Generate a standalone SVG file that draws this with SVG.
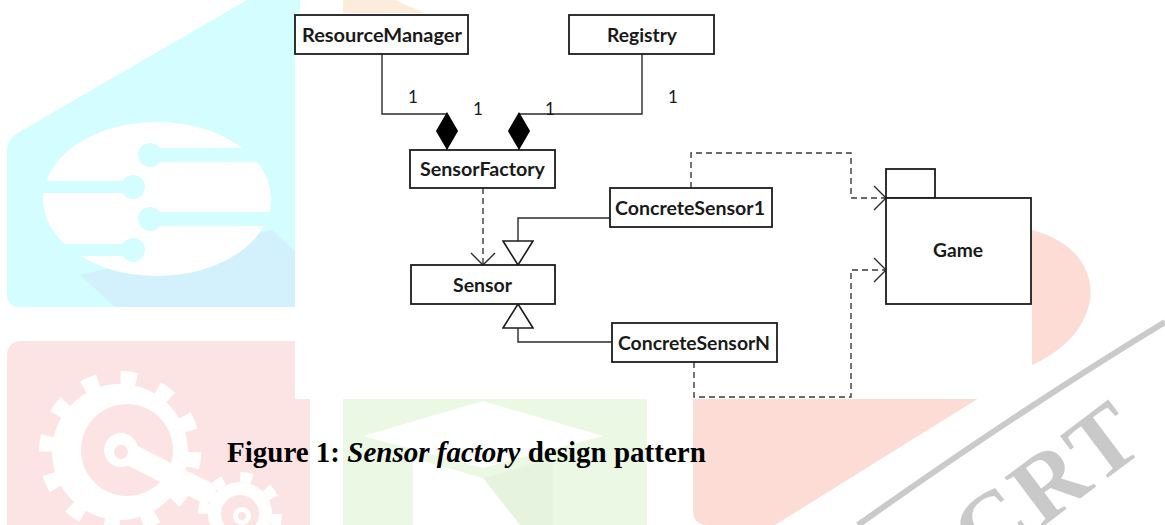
<svg xmlns="http://www.w3.org/2000/svg" width="1165" height="525" viewBox="0 0 1165 525">
  <style>
    .box { fill: #ffffff; stroke: #1c1c1c; stroke-width: 1.8; }
    .lbl { font-family: Lato, "Open Sans", "Liberation Sans", sans-serif; font-weight: 700; font-size: 19px; fill: #1a1a1a; text-anchor: middle; }
    .mult { font-family: Lato, "Open Sans", "Liberation Sans", sans-serif; font-weight: 400; font-size: 17px; fill: #1a1a1a; text-anchor: middle; }
    .solid { fill: none; stroke: #2a2a2a; stroke-width: 1.4; }
    .dash { fill: none; stroke: #3a3a3a; stroke-width: 1.4; stroke-dasharray: 6 4; }
    .caption { font-family: "Liberation Serif", "Times New Roman", serif; font-weight: 700; font-size: 29px; fill: #000000; }
  </style>
  <defs>
    <!-- filled diamond: composition end -->
    <marker id="diamond" markerUnits="userSpaceOnUse" markerWidth="38" markerHeight="24" viewBox="0 0 36 22" refX="36" refY="11" orient="auto">
      <path d="M0,11 L18,0.5 L36,11 L18,21.5 Z" fill="#000000"/>
    </marker>
    <!-- hollow triangle: generalization end -->
    <marker id="triangle" markerUnits="userSpaceOnUse" markerWidth="26" markerHeight="32" viewBox="0 0 26 32" refX="25" refY="16" orient="auto">
      <path d="M1,1 L25,16 L1,31 Z" fill="#ffffff" stroke="#1c1c1c" stroke-width="1.6"/>
    </marker>
    <!-- open arrow: dependency end -->
    <marker id="open" markerUnits="userSpaceOnUse" markerWidth="16" markerHeight="28" viewBox="0 0 16 28" refX="14" refY="14" orient="auto">
      <path d="M2,2 L14,14 L2,26" fill="none" stroke="#2a2a2a" stroke-width="1.4"/>
    </marker>
  </defs>

  <rect width="1165" height="525" fill="#ffffff"/>

  <!-- page watermark, behind the figure -->
  <g id="watermark">
    <!-- cyan tile with circuit head -->
    <path d="M247,0 H300 V307 H20 Q7,307 7,294 V150 Q7,140 16,134 Z" fill="#d3fdff"/>
    <path d="M80,275 L272,230 L300,256 V307 H115 Z" fill="#d2f1fc"/>
    <ellipse cx="157" cy="199" rx="114" ry="77" fill="#ffffff"/>
    <g fill="#d3fdff">
      <rect x="150" y="148" width="130" height="14"/><circle cx="150" cy="155" r="12"/>
      <rect x="30" y="181" width="103" height="12"/><circle cx="133" cy="187" r="12"/>
      <rect x="150" y="212" width="130" height="14"/><circle cx="150" cy="219" r="12"/>
      <rect x="30" y="244" width="103" height="12"/><circle cx="133" cy="250" r="12"/>
    </g>
    <!-- peach corner at the top -->
    <path d="M343,0 H395 L425,13 H343 Z" fill="#fdebdc"/>
    <!-- pink tile with gears -->
    <path d="M7,356 Q7,341 22,341 H300 V397 H310 V525 H7 Z" fill="#fde4e4"/>
    <circle cx="120" cy="452" r="68" fill="#ffffff"/>
    <circle cx="120" cy="452" r="74" fill="none" stroke="#ffffff" stroke-width="14" stroke-dasharray="16 22.75"/>
    <circle cx="127" cy="450" r="46" fill="#fde4e4"/>
    <path d="M121,450 L205,492" stroke="#ffffff" stroke-width="22" stroke-linecap="round"/>
    <circle cx="121" cy="450" r="17" fill="#ffffff"/>
    <circle cx="121" cy="452" r="7" fill="#fde4e4"/>
    <circle cx="240" cy="514" r="32" fill="#ffffff"/>
    <circle cx="240" cy="514" r="37" fill="none" stroke="#ffffff" stroke-width="10" stroke-dasharray="12 17.06"/>
    <circle cx="240" cy="514" r="19" fill="#fde4e4"/>
    <circle cx="242" cy="516" r="9" fill="#ffffff"/>
    <circle cx="242" cy="516" r="4" fill="#fde4e4"/>
    <!-- green tile with mortarboard -->
    <rect x="343" y="399" width="304" height="126" fill="#ebf8e3"/>
    <path d="M363,436 L483,401 L603,436 L483,468 Z" fill="#ffffff"/>
    <path d="M413,458 L483,478 L553,458 V525 H413 Z" fill="#ffffff"/>
    <path d="M483,478 L553,458 V525 H520 Z" fill="#e6f3de"/>
    <!-- salmon shield, arc and lettering -->
    <path d="M693,230 V510 Q693,525 708,525 H775 L1032,365 C1110,330 1110,250 1032,230 Z" fill="#fddcd5"/>
    <path d="M1165,322 Q1020,410 858,525" fill="none" stroke="#cacaca" stroke-width="6"/>
    <text x="1150" y="446" transform="rotate(-37 1150 446)" text-anchor="end" letter-spacing="4" font-family="'Liberation Serif', 'Times New Roman', serif" font-weight="700" font-size="95" fill="#c9c9c9">IJCRT</text>
  </g>

  <!-- figure canvas -->
  <rect x="295" y="13" width="737" height="386" fill="#ffffff"/>

  <!-- connectors -->
  <g id="connectors">
    <path class="solid" d="M382,54 V114 H447 V150" marker-end="url(#diamond)"/>
    <path class="solid" d="M642,54 V114 H519 V150" marker-end="url(#diamond)"/>
    <path class="dash" d="M483,188 V265" marker-end="url(#open)"/>
    <path class="solid" d="M610,218 H518 V265" marker-end="url(#triangle)"/>
    <path class="solid" d="M612,342 H518 V304" marker-end="url(#triangle)"/>
    <path class="dash" d="M691,188 V153 H851 V198 H886" marker-end="url(#open)"/>
    <path class="dash" d="M694,362 V397 H851 V270 H886" marker-end="url(#open)"/>
    <text class="mult" x="413" y="103">1</text>
    <text class="mult" x="478" y="115">1</text>
    <text class="mult" x="550" y="115">1</text>
    <text class="mult" x="673" y="103">1</text>
  </g>

  <g id="ResourceManager">
    <rect class="box" x="295" y="15" width="173" height="39"/>
    <text class="lbl" x="382" y="42" textLength="160" lengthAdjust="spacingAndGlyphs">ResourceManager</text>
  </g>
  <g id="Registry">
    <rect class="box" x="569" y="15" width="145" height="39"/>
    <text class="lbl" x="642" y="42" textLength="70" lengthAdjust="spacingAndGlyphs">Registry</text>
  </g>
  <g id="SensorFactory">
    <rect class="box" x="410" y="150" width="145" height="38"/>
    <text class="lbl" x="482.5" y="176" textLength="125" lengthAdjust="spacingAndGlyphs">SensorFactory</text>
  </g>
  <g id="Sensor">
    <rect class="box" x="411" y="265" width="144" height="39"/>
    <text class="lbl" x="482.5" y="292" textLength="59" lengthAdjust="spacingAndGlyphs">Sensor</text>
  </g>
  <g id="ConcreteSensor1">
    <rect class="box" x="610" y="188" width="162" height="39"/>
    <text class="lbl" x="690" y="215" textLength="150" lengthAdjust="spacingAndGlyphs">ConcreteSensor1</text>
  </g>
  <g id="ConcreteSensorN">
    <rect class="box" x="612" y="323" width="165" height="39"/>
    <text class="lbl" x="694" y="350" textLength="152" lengthAdjust="spacingAndGlyphs">ConcreteSensorN</text>
  </g>
  <g id="Game">
    <rect class="box" x="886" y="169" width="49" height="29"/>
    <rect class="box" x="886" y="198" width="145" height="106"/>
    <text class="lbl" x="958" y="257" textLength="50" lengthAdjust="spacingAndGlyphs">Game</text>
  </g>

  <text class="caption" x="227" y="462">Figure 1: <tspan font-style="italic">Sensor factory</tspan> design pattern</text>
</svg>
